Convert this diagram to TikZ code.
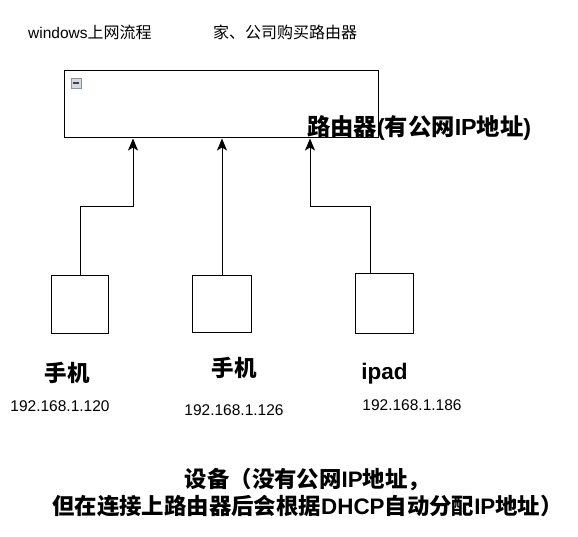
\documentclass[tikz,border=0pt]{standalone}
\usepackage{fontspec}
\setmainfont{Liberation Sans}
\newfontfamily\cjk{Noto Sans CJK SC}
\newcommand\zh[1]{{\cjk #1}}
\usetikzlibrary{arrows.meta,calc}
\definecolor{iconborder}{HTML}{8C94A4}
\definecolor{iconfill}{HTML}{D4D8E0}
\definecolor{icondash}{HTML}{404448}
\begin{document}
\begin{tikzpicture}[x=1pt,y=-1pt,
  box/.style={draw=black,line width=1pt},
  conn/.style={draw=black,line width=1pt,-{Stealth[length=12pt,width=10pt,inset=3pt]}},
  txt/.style={inner sep=0pt,font=\fontsize{15.5}{18}\selectfont},
  big/.style={inner sep=0pt,font=\fontsize{22.5}{26}\selectfont\bfseries},
  bottom/.style={inner sep=0pt,font=\fontsize{22.4}{26}\selectfont\bfseries}]
\useasboundingbox (0,0) rectangle (578,536);
\fill[white] (0,0) rectangle (578,536);
% titles
\node[txt,anchor=base west] (t1) at (28,38.5) {windows{\fontsize{16}{18}\selectfont\zh{上网流程}}};
\node[txt,anchor=base west,font=\fontsize{16}{18}\selectfont] (t2) at (213,38.5) {\zh{家、公司购买路由器}};
% router
\draw[box] (64,70.5) rectangle (378,137);
\node[draw=iconborder,fill=iconfill,line width=0.8pt,minimum width=10pt,minimum height=10pt,inner sep=0pt] (icon) at (76,83) {};
\draw[icondash,line width=2pt] ($(icon.west)+(2,0)$) -- ($(icon.east)+(-2,0)$);
\node[inner sep=0pt,anchor=base west,font=\fontsize{23.3}{27}\selectfont\bfseries] (rlabel) at (307,135) {\zh{路由器}(\zh{有公网}IP\zh{地址})};
% devices
\draw[box] (51,275) rectangle (108,333);
\draw[box] (192,275) rectangle (251,332);
\draw[box] (355,273) rectangle (413,333);
\coordinate (p1) at (80,275);
\coordinate (p2) at (222,275);
\coordinate (p3) at (370,273);
\coordinate (r1) at (133,138.5);
\coordinate (r2) at (222,138.5);
\coordinate (r3) at (310,138.5);
\coordinate (m1) at (133,206);
\coordinate (m3) at (310,206);
\draw[conn] (p1) |- (m1) -- (r1);
\draw[conn] (p2) -- (r2);
\draw[conn] (p3) |- (m3) -- (r3);
% device labels
\node[big,anchor=base] (d1) at (67,381) {\zh{手机}};
\node[big,anchor=base] (d2) at (234,376) {\zh{手机}};
\node[big,anchor=base] (d3) at (384.5,379) {ipad};
\node[txt,anchor=base] (ip1) at (60,411) {192.168.1.120};
\node[txt,anchor=base] (ip2) at (234,415) {192.168.1.126};
\node[txt,anchor=base] (ip3) at (412,410) {192.168.1.186};
% bottom
\node[bottom,anchor=base] (b1) at (307.5,487) {\zh{设备（没有公网}IP\zh{地址，}};
\node[bottom,anchor=base] (b2) at (307.5,514) {\zh{但在连接上路由器后会根据}DHCP\zh{自动分配}IP\zh{地址）}};
\end{tikzpicture}
\end{document}
